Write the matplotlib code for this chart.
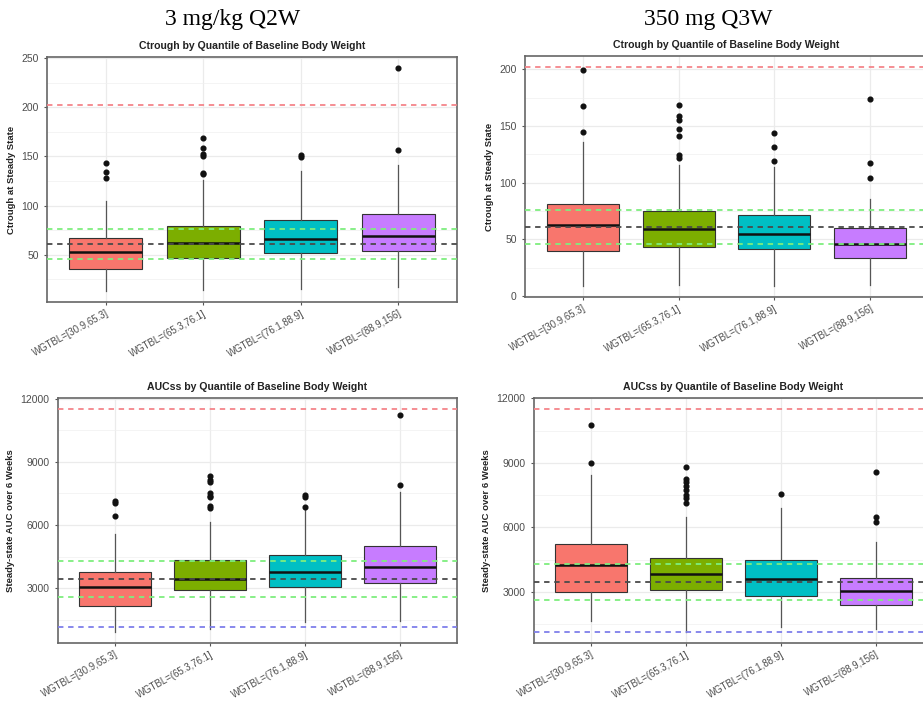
import numpy as np
import matplotlib
matplotlib.use('Agg')
import matplotlib.pyplot as plt

plt.rcParams['font.family'] = ['Liberation Sans', 'DejaVu Sans']

# categories (quartiles of baseline weight)
groups = ['WGTBL=[30.9,65.3]', 'WGTBL=(65.3,76.1]', 'WGTBL=(76.1,88.9]', 'WGTBL=(88.9,156]']
fill_colors = ['#F8766D', '#7CAE00', '#00BFC4', '#C77CFF']

# Ctrough, 3 mg/kg Q2W
ctr_q2w_low = [13, 14, 15, 17]
ctr_q2w_q1 = [35.5, 46.6, 51.7, 54]
ctr_q2w_med = [52.5, 61.5, 66, 68.5]
ctr_q2w_q3 = [67, 79, 85.4, 91.5]
ctr_q2w_high = [105, 125.5, 135, 140.8]
ctr_q2w_out = [[143, 134, 128], [168.5, 158.5, 152, 150, 133, 132], [151.5, 149], [156.8, 240]]

# Ctrough, 350 mg Q3W
ctr_q3w_low = [8.7, 9.6, 8.7, 9.6]
ctr_q3w_q1 = [39.9, 43.4, 41.1, 33.7]
ctr_q3w_med = [62.6, 59, 54.6, 45.5]
ctr_q3w_q3 = [80.8, 75.2, 71.4, 60.2]
ctr_q3w_high = [136, 115.5, 114, 85.3]
ctr_q3w_out = [[199.4, 167.9, 144.4], [168, 159, 155, 147, 141, 124, 122], [143.5, 131, 118.8], [173.8, 117.6, 103.8]]

# AUCss, 3 mg/kg Q2W
auc_q2w_low = [937, 1095, 1413, 1460]
auc_q2w_q1 = [2175, 2920, 3063, 3238]
auc_q2w_med = [3079, 3444, 3762, 4000]
auc_q2w_q3 = [3762, 4333, 4571, 5031]
auc_q2w_high = [5587, 6126, 6750, 7571]
auc_q2w_out = [[7126, 7047, 6412], [8317, 8158, 8031, 7523, 7396, 7333, 6888, 6793], [7440, 7330, 6870], [7888, 11221]]

# AUCss, 350 mg Q3W
auc_q3w_low = [1656, 1140, 1344, 1266]
auc_q3w_q1 = [3016, 3109, 2828, 2391]
auc_q3w_med = [4250, 3844, 3578, 3031]
auc_q3w_q3 = [5234, 4594, 4469, 3656]
auc_q3w_high = [8453, 6500, 6922, 5328]
auc_q3w_out = [[10750, 9000], [8812, 8266, 8094, 7937, 7750, 7516, 7344, 7156], [7547], [8562, 6500, 6266]]

# reference exposure lines
ctr_ref_high = 202
ctr_ref_band = [45.5, 76]
ctr_ref_med = 61
auc_ref_high = 11500
auc_ref_band = [2600, 4310]
auc_ref_med = 3460
auc_ref_low = 1150


def draw_panel(ax, low, q1, med, q3, high, out, ref_high, ref_band, ref_med, ref_low,
               title, ylabel, major, minor):
    stats = []
    for i in range(len(groups)):
        stats.append(dict(whislo=low[i], q1=q1[i], med=med[i], q3=q3[i],
                          whishi=high[i], fliers=out[i]))
    pos = np.arange(1, len(groups) + 1)
    bp = ax.bxp(stats, positions=pos, widths=0.75, patch_artist=True, showcaps=False,
                boxprops=dict(edgecolor='#333333', linewidth=0.8),
                medianprops=dict(color='#111111', linewidth=1.8),
                whiskerprops=dict(color='#555555', linewidth=0.9),
                flierprops=dict(marker='o', markerfacecolor='#111111',
                                markeredgecolor='#111111', markersize=3.4))
    for patch, c in zip(bp['boxes'], fill_colors):
        patch.set_facecolor(c)
        patch.set_zorder(2)

    dash = dict(linestyle=(0, (3, 2.6)), linewidth=1.3, zorder=4)
    ax.axhline(ref_high, color='#F4858A', **dash)
    for v in ref_band:
        ax.axhline(v, color='#7EEE7E', **dash)
    ax.axhline(ref_med, color='#4A4A4A', **dash)
    if ref_low is not None:
        ax.axhline(ref_low, color='#7F7FEA', **dash)

    # ggplot-like 5% expansion
    vals = list(low) + [ref_high] + [v for o in out for v in o]
    if ref_low is not None:
        vals.append(ref_low)
    lo, hi = min(vals), max(vals)
    pad = (hi - lo) * 0.05
    ax.set_ylim(lo - pad, hi + pad)
    ax.set_xlim(0.4, len(groups) + 0.6)

    ax.set_yticks(major)
    ax.set_yticks(minor, minor=True)
    ax.set_xticks(pos)
    ax.set_xticklabels(groups, rotation=29, ha='right', rotation_mode='anchor',
                       fontsize=6.9, color='#4D4D4D')
    ax.tick_params(axis='y', labelsize=7.5, labelcolor='#4D4D4D', length=2.5, color='#555555')
    ax.tick_params(axis='y', which='minor', length=0)
    ax.tick_params(axis='x', length=2.5, color='#555555', pad=2)
    ax.grid(True, which='major', color='#EBEBEB', linewidth=0.9, zorder=0)
    ax.grid(True, which='minor', axis='y', color='#F0F0F0', linewidth=0.5, zorder=0)
    ax.set_axisbelow(True)
    for s in ax.spines.values():
        s.set_color('#666666')
        s.set_linewidth(1.2)
    ax.set_title(title, fontsize=7.6, fontweight='bold', color='#222222', pad=6)
    ax.set_ylabel(ylabel, fontsize=6.8, fontweight='bold', color='#222222', labelpad=4)


fig = plt.figure(figsize=(9.23, 7.02), dpi=100)
ax1 = fig.add_axes([47 / 923, 1 - 302 / 702, 410 / 923, 245 / 702])
ax2 = fig.add_axes([525 / 923, 1 - 297 / 702, 403 / 923, 241 / 702])
ax3 = fig.add_axes([58 / 923, 1 - 643 / 702, 399 / 923, 245 / 702])
ax4 = fig.add_axes([534 / 923, 1 - 643 / 702, 399 / 923, 245 / 702])

ctr_title = 'Ctrough by Quantile of Baseline Body Weight'
auc_title = 'AUCss by Quantile of Baseline Body Weight'

draw_panel(ax1, ctr_q2w_low, ctr_q2w_q1, ctr_q2w_med, ctr_q2w_q3, ctr_q2w_high, ctr_q2w_out,
           ctr_ref_high, ctr_ref_band, ctr_ref_med, None, ctr_title, 'Ctrough at Steady State',
           [50, 100, 150, 200, 250], [25, 75, 125, 175, 225])
draw_panel(ax2, ctr_q3w_low, ctr_q3w_q1, ctr_q3w_med, ctr_q3w_q3, ctr_q3w_high, ctr_q3w_out,
           ctr_ref_high, ctr_ref_band, ctr_ref_med, None, ctr_title, 'Ctrough at Steady State',
           [0, 50, 100, 150, 200], [25, 75, 125, 175])
draw_panel(ax3, auc_q2w_low, auc_q2w_q1, auc_q2w_med, auc_q2w_q3, auc_q2w_high, auc_q2w_out,
           auc_ref_high, auc_ref_band, auc_ref_med, auc_ref_low, auc_title,
           'Steady-state AUC over 6 Weeks', [3000, 6000, 9000, 12000], [1500, 4500, 7500, 10500])
draw_panel(ax4, auc_q3w_low, auc_q3w_q1, auc_q3w_med, auc_q3w_q3, auc_q3w_high, auc_q3w_out,
           auc_ref_high, auc_ref_band, auc_ref_med, auc_ref_low, auc_title,
           'Steady-state AUC over 6 Weeks', [3000, 6000, 9000, 12000], [1500, 4500, 7500, 10500])

fig.text(233 / 923, 1 - 20 / 702, '3 mg/kg Q2W', family='Liberation Serif', fontsize=17,
         ha='center', va='center')
fig.text(708 / 923, 1 - 20 / 702, '350 mg Q3W', family='Liberation Serif', fontsize=17,
         ha='center', va='center')

fig.savefig('out.png', dpi=100)
